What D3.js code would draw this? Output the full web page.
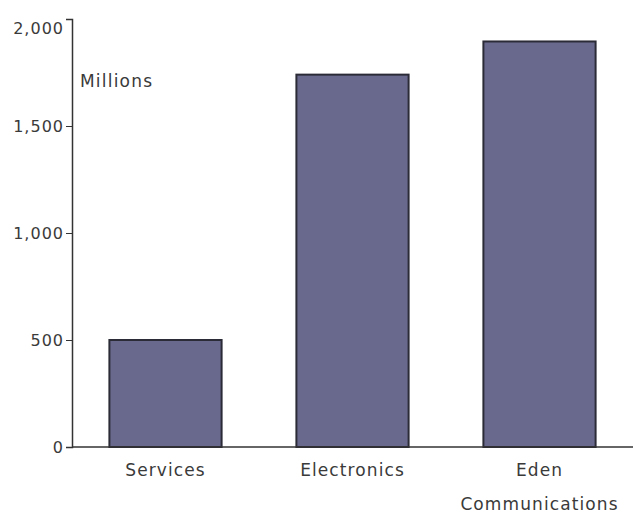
<!DOCTYPE html>
<html>
<head>
<meta charset="utf-8">
<script src="https://cdn.jsdelivr.net/npm/d3@7"></script>
<style>
  html, body { margin: 0; padding: 0; background: #fff; }
  svg { display: block; }
  text { font-family: "DejaVu Sans", Verdana, sans-serif; fill: #3a3a3a; }
</style>
</head>
<body>
<svg id="chart" width="644" height="520"></svg>
<script>
// Segment revenue, in millions
const categories = ["Services", "Electronics", "Eden Communications"];
const categoryLines = [["Services"], ["Electronics"], ["Eden", "Communications"]];
const values = [500, 1740, 1895];
const yTicks = [0, 500, 1000, 1500, 2000];
const unitLabel = "Millions";

const svg = d3.select("#chart");
const plotLeft = 72, plotRight = 633, plotTop = 19, plotBottom = 447;
const labelFont = "\"DejaVu Sans\", Verdana, sans-serif";

const x = d3.scaleBand()
  .domain(categories)
  .range([plotLeft, plotRight])
  .paddingInner(0.4)
  .paddingOuter(0.2);

const y = d3.scaleLinear()
  .domain([0, 2000])
  .range([plotBottom, plotTop]);

// Bars
svg.append("g")
  .selectAll("rect")
  .data(values)
  .join("rect")
  .attr("x", (d, i) => x(categories[i]))
  .attr("y", d => y(d))
  .attr("width", x.bandwidth())
  .attr("height", d => y(0) - y(d))
  .attr("fill", "#69698d")
  .attr("stroke", "#2b2b38")
  .attr("stroke-width", 2);

// Y axis
const yAxis = svg.append("g")
  .attr("transform", `translate(${plotLeft},0)`)
  .call(d3.axisLeft(y).tickValues(yTicks).tickFormat(d3.format(",")).tickSize(6).tickPadding(2));
yAxis.select(".domain").attr("stroke", "#333").attr("stroke-width", 1.5);
yAxis.selectAll(".tick line").attr("stroke", "#333");
yAxis.selectAll(".tick text")
  .attr("font-size", 16)
  .attr("letter-spacing", 1)
  .style("font-family", labelFont)
  .attr("fill", "#3a3a3a")
  .attr("dy", d => d === 2000 ? "0.9em" : "0.35em");

// X axis baseline
svg.append("line")
  .attr("x1", plotLeft).attr("x2", plotRight)
  .attr("y1", y(0)).attr("y2", y(0))
  .attr("stroke", "#333").attr("stroke-width", 1.5);

// Category labels
svg.append("g")
  .selectAll("text")
  .data(categoryLines)
  .join("text")
  .attr("text-anchor", "middle")
  .attr("font-size", 17)
  .attr("letter-spacing", 1.1)
  .style("font-family", labelFont)
  .attr("transform", (d, i) => `translate(${x(categories[i]) + x.bandwidth() / 2},${y(0) + 29})`)
  .selectAll("tspan")
  .data(d => d)
  .join("tspan")
  .attr("x", 0)
  .attr("dy", (d, j) => j === 0 ? 0 : 34)
  .text(d => d);

// Unit label
svg.append("text")
  .attr("x", plotLeft + 8)
  .attr("y", 87)
  .attr("font-size", 17)
  .attr("letter-spacing", 1.2)
  .style("font-family", labelFont)
  .text(unitLabel);
</script>
</body>
</html>
